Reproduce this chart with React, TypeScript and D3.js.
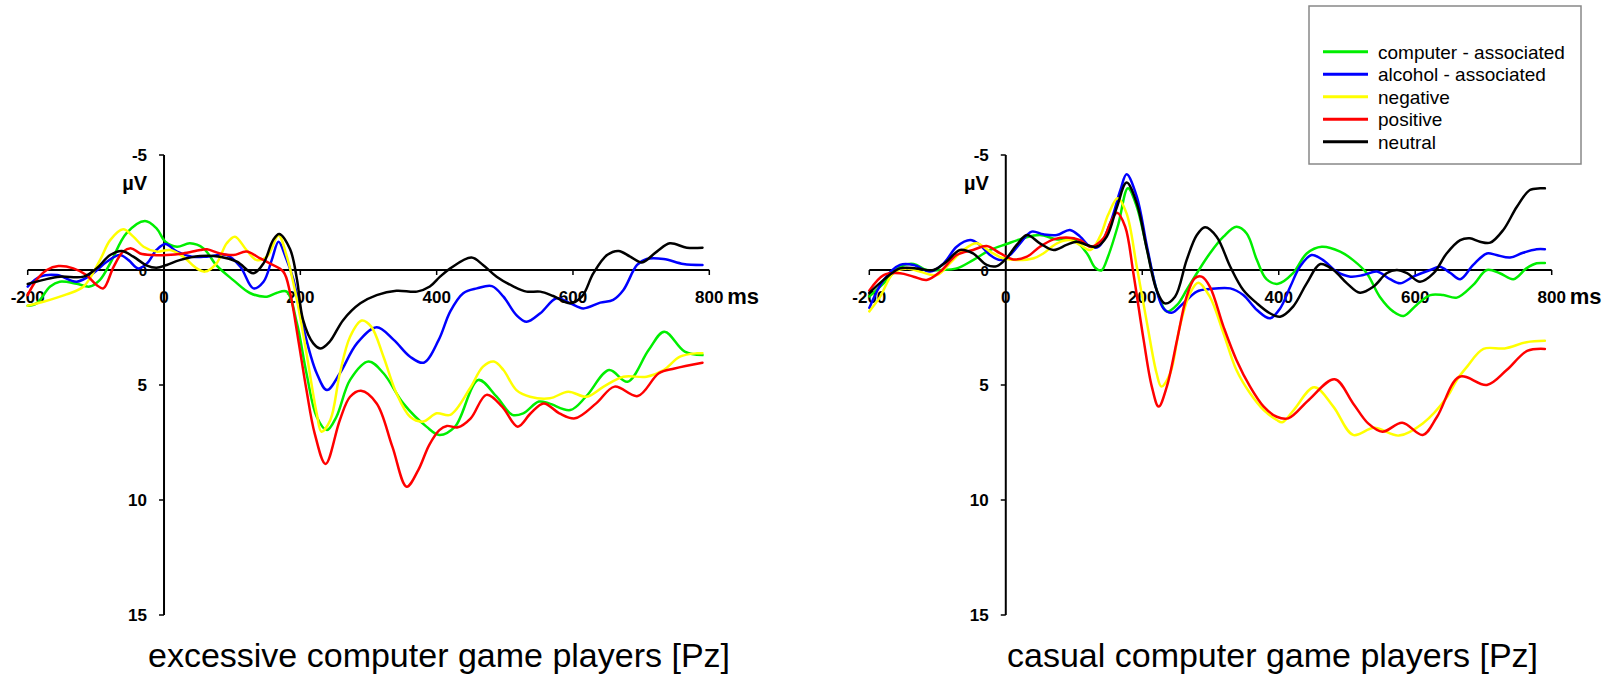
import { useMemo } from 'react';
import * as d3 from 'd3';

type Pt = [number, number];

// ms / µV readings, excessive players (left panel)
const EXC_COMPUTER: Pt[] = [
  [-200, 1.55], [-187, 1.45], [-167, 0.72], [-153, 0.51], [-128, 0.6], [-109, 0.72], [-94, 0.43], [-79, -0.29],
  [-55, -1.6], [-28, -2.13], [-11, -1.81], [2, -1.23], [19, -1.01], [38, -1.16], [58, -0.94], [77, -0.2],
  [102, 0.45], [126, 1.0], [151, 1.16], [165, 1.0], [180, 0.94], [195, 2.32], [209, 4.49], [224, 6.38],
  [239, 6.96], [253, 6.38], [273, 4.78], [300, 3.98], [322, 4.49], [351, 5.8], [385, 6.81], [404, 7.17],
  [427, 6.81], [461, 4.78], [488, 5.51], [511, 6.3], [527, 6.23], [550, 5.72], [565, 5.8], [596, 6.09],
  [619, 5.51], [653, 4.35], [680, 4.86], [711, 3.48], [734, 2.68], [764, 3.55], [790, 3.7],
];
const EXC_ALCOHOL: Pt[] = [
  [-200, 0.72], [-182, 0.29], [-157, 0.22], [-128, 0.51], [-104, 0.14], [-84, -0.36], [-65, -0.65], [-52, -0.43],
  [-38, -0.07], [-25, -0.29], [-11, -0.87], [2, -1.13], [19, -0.8], [41, -0.58], [63, -0.58], [92, -0.65],
  [112, -0.14], [131, 0.8], [146, 0.51], [158, -0.43], [168, -1.23], [178, -0.6], [190, 0.43], [204, 2.46],
  [224, 4.49], [239, 5.22], [258, 4.49], [283, 3.19], [312, 2.49], [337, 3.04], [361, 3.77], [381, 4.03],
  [403, 3.04], [420, 1.8], [439, 1.01], [459, 0.8], [481, 0.7], [498, 1.16], [517, 1.96], [532, 2.25],
  [552, 1.88], [576, 1.23], [596, 1.45], [615, 1.67], [640, 1.42], [659, 1.3], [674, 0.87], [694, -0.22],
  [708, -0.48], [733, -0.48], [762, -0.26], [790, -0.22],
];
const EXC_NEGATIVE: Pt[] = [
  [-200, 1.55], [-177, 1.38], [-143, 1.06], [-118, 0.72], [-94, -0.43], [-79, -1.3], [-60, -1.77], [-45, -1.45],
  [-30, -1.01], [-11, -0.8], [9, -0.87], [28, -0.58], [48, -0.07], [60, 0.07], [77, -0.29], [92, -1.16],
  [104, -1.45], [121, -0.87], [136, -0.43], [151, -0.58], [168, -1.5], [180, -0.6], [195, 1.3], [209, 3.62],
  [224, 6.23], [231, 7.03], [244, 6.52], [258, 4.49], [273, 2.9], [290, 2.2], [304, 2.46], [322, 3.77],
  [341, 5.36], [361, 6.38], [380, 6.59], [400, 6.23], [420, 6.3], [449, 5.14], [468, 4.2], [484, 3.98],
  [498, 4.35], [517, 5.22], [537, 5.51], [566, 5.58], [593, 5.29], [620, 5.51], [645, 5.07], [674, 4.64],
  [708, 4.64], [733, 4.35], [757, 3.77], [782, 3.62], [790, 3.62],
];
const EXC_POSITIVE: Pt[] = [
  [-200, 1.09], [-187, 0.43], [-172, 0], [-155, -0.17], [-133, -0.07], [-114, 0.22], [-99, 0.65], [-89, 0.8],
  [-74, -0.14], [-60, -0.8], [-48, -0.94], [-35, -0.72], [-16, -0.65], [4, -0.65], [28, -0.72], [53, -0.87],
  [63, -0.9], [82, -0.72], [102, -0.65], [121, -0.8], [141, -0.51], [155, -0.29], [175, 0.07], [185, 1.0],
  [197, 3.04], [209, 5.22], [221, 7.1], [237, 8.43], [258, 6.52], [273, 5.51], [289, 5.25], [312, 5.8],
  [335, 7.68], [356, 9.42], [373, 8.7], [389, 7.61], [404, 6.96], [415, 6.78], [431, 6.84], [450, 6.45],
  [473, 5.43], [496, 5.94], [519, 6.81], [538, 6.23], [557, 5.8], [580, 6.23], [603, 6.45], [634, 5.8],
  [661, 5.07], [695, 5.48], [726, 4.49], [749, 4.28], [790, 4.03],
];
const EXC_NEUTRAL: Pt[] = [
  [-200, 0.61], [-177, 0.43], [-153, 0.29], [-118, 0.29], [-99, -0.07], [-79, -0.65], [-62, -0.83], [-45, -0.58],
  [-25, -0.19], [-11, -0.1], [4, -0.22], [23, -0.43], [53, -0.61], [82, -0.58], [107, -0.36], [131, 0.14],
  [146, -0.29], [160, -1.3], [169, -1.57], [185, -0.9], [195, 0.4], [204, 2.17], [219, 3.19], [230, 3.41],
  [243, 3.12], [263, 2.17], [288, 1.45], [312, 1.09], [341, 0.9], [371, 0.94], [390, 0.72], [405, 0.29],
  [420, -0.07], [451, -0.54], [468, -0.22], [488, 0.29], [513, 0.72], [532, 0.94], [552, 0.94], [571, 1.13],
  [596, 1.45], [613, 1.16], [630, 0.14], [650, -0.65], [667, -0.83], [684, -0.58], [701, -0.33], [723, -0.8],
  [742, -1.16], [767, -0.97], [790, -0.97],
];

// casual players (right panel)
const CAS_COMPUTER: Pt[] = [
  [-200, 1.15], [-179, 0.58], [-155, -0.14], [-135, -0.26], [-116, 0], [-96, 0], [-72, -0.07], [-48, -0.43],
  [-23, -0.87], [1, -1.13], [26, -1.38], [50, -1.52], [75, -1.33], [99, -1.33], [119, -0.72], [131, -0.1],
  [140, 0.02], [150, -0.6], [165, -2.0], [179, -3.55], [192, -2.75], [204, -1.3], [216, 0.29], [226, 1.3],
  [236, 1.81], [251, 1.52], [265, 0.87], [280, 0.14], [299, -0.72], [319, -1.45], [338, -1.88], [353, -1.59],
  [368, -0.43], [382, 0.4], [399, 0.6], [421, 0.14], [441, -0.72], [463, -1.01], [490, -0.8], [509, -0.43],
  [529, 0.14], [548, 1.16], [568, 1.81], [583, 2.0], [602, 1.52], [622, 1.09], [641, 1.09], [661, 1.2],
  [685, 0.65], [705, 0], [724, 0.14], [744, 0.4], [763, -0.07], [778, -0.29], [790, -0.3],
];
const CAS_ALCOHOL: Pt[] = [
  [-200, 1.65], [-179, 0.43], [-155, -0.22], [-135, -0.22], [-111, 0.07], [-91, -0.29], [-72, -1.01], [-52, -1.3],
  [-38, -1.09], [-23, -0.65], [-8, -0.43], [6, -0.65], [21, -1.16], [38, -1.67], [55, -1.55], [75, -1.52],
  [94, -1.74], [109, -1.45], [124, -1.01], [136, -1.01], [153, -2.03], [168, -3.48], [177, -4.16], [192, -3.19],
  [207, -1.01], [221, 0.87], [231, 1.67], [243, 1.86], [260, 1.45], [280, 0.94], [299, 0.83], [329, 0.8],
  [348, 1.09], [368, 1.74], [387, 2.1], [402, 1.67], [417, 0.72], [431, -0.14], [448, -0.65], [465, -0.43],
  [485, 0.07], [505, 0.29], [524, 0.22], [544, 0.07], [563, 0.4], [578, 0.58], [597, 0.29], [622, 0],
  [636, -0.14], [651, 0.12], [666, 0.4], [685, -0.22], [705, -0.72], [719, -0.65], [739, -0.54], [758, -0.75],
  [778, -0.9], [790, -0.9],
];
const CAS_NEGATIVE: Pt[] = [
  [-200, 1.8], [-184, 1.16], [-165, 0.14], [-145, -0.07], [-126, 0.07], [-101, 0.22], [-82, -0.29], [-62, -0.87],
  [-43, -1.16], [-23, -0.8], [-4, -0.51], [16, -0.43], [41, -0.51], [55, -0.72], [75, -1.16], [94, -1.3],
  [109, -1.09], [124, -0.87], [138, -1.45], [150, -2.4], [164, -3.12], [177, -2.46], [192, -0.14], [207, 2.32],
  [221, 4.49], [228, 5.07], [241, 4.49], [255, 2.46], [270, 1.01], [282, 0.55], [299, 1.16], [319, 2.75],
  [338, 4.35], [358, 5.36], [378, 6.09], [397, 6.52], [405, 6.62], [422, 6.09], [452, 5.1], [480, 5.94],
  [509, 7.17], [540, 6.86], [576, 7.2], [611, 6.67], [647, 5.51], [661, 4.78], [676, 4.2], [700, 3.43],
  [731, 3.41], [763, 3.14], [790, 3.08],
];
const CAS_POSITIVE: Pt[] = [
  [-200, 0.9], [-179, 0.22], [-155, 0.14], [-135, 0.29], [-116, 0.43], [-96, 0.07], [-72, -0.65], [-48, -0.87],
  [-28, -1.04], [-8, -0.72], [11, -0.46], [31, -0.58], [50, -1.01], [70, -1.33], [89, -1.41], [109, -1.3],
  [124, -1.01], [143, -1.38], [153, -2.03], [163, -2.49], [175, -1.88], [187, 0.14], [202, 3.04], [214, 5.07],
  [224, 5.94], [236, 5.07], [251, 3.04], [265, 1.16], [277, 0.36], [287, 0.29], [299, 0.72], [319, 2.46],
  [338, 3.91], [358, 5.07], [378, 5.94], [397, 6.38], [414, 6.45], [444, 5.65], [482, 4.75], [509, 5.8],
  [531, 6.67], [552, 7.03], [581, 6.64], [611, 7.17], [632, 6.38], [665, 4.64], [705, 5.0], [734, 4.35],
  [764, 3.52], [790, 3.43],
];
const CAS_NEUTRAL: Pt[] = [
  [-200, 1.0], [-179, 0.43], [-155, -0.07], [-131, -0.07], [-106, 0], [-87, -0.36], [-67, -0.87], [-48, -0.72],
  [-28, -0.22], [-13, -0.17], [1, -0.51], [16, -1.09], [31, -1.52], [50, -1.16], [70, -0.87], [89, -1.09],
  [104, -1.23], [119, -1.09], [133, -1.01], [148, -1.45], [163, -2.75], [177, -3.8], [192, -2.9], [207, -0.87],
  [221, 0.87], [233, 1.45], [248, 1.16], [265, -0.43], [280, -1.52], [292, -1.86], [309, -1.45], [329, -0.14],
  [348, 0.87], [368, 1.45], [387, 1.88], [402, 2.03], [421, 1.59], [441, 0.58], [461, -0.26], [480, 0],
  [500, 0.58], [519, 0.99], [539, 0.72], [558, 0.14], [573, 0], [588, 0.14], [607, 0.51], [627, 0.14],
  [646, -0.72], [666, -1.3], [680, -1.38], [695, -1.23], [710, -1.19], [729, -1.74], [749, -2.75], [768, -3.48],
  [783, -3.55], [790, -3.55],
];

const SERIES_NAMES = ['computer - associated', 'alcohol - associated', 'negative', 'positive', 'neutral'];
const SERIES_COLORS = ['#00ee00', '#0000ff', '#ffff00', '#ff0000', '#000000'];
const X_TICKS = [-200, 0, 200, 400, 600, 800];
const Y_TICKS = [-5, 0, 5, 10, 15];

const FONT = '"Liberation Sans", Arial, sans-serif';

const y = d3.scaleLinear().domain([-5, 15]).range([155, 615]);

const Panel = ({ x, series, title, titleX }: {
  x: d3.ScaleLinear<number, number>; series: Pt[][]; title: string; titleX: number;
}) => {
  const line = d3.line<Pt>()
    .x(d => x(d[0]))
    .y(d => y(d[1]))
    .curve(d3.curveCatmullRom.alpha(0.5));
  const x0 = x(0);
  const y0 = y(0);

  return (
    <g>
      {/* y tick labels + unit */}
      {Y_TICKS.map(v => (
        <text key={'yl' + v} x={x0 - 17} y={y(v) + 6} textAnchor="end"
          fontFamily={FONT} fontWeight="bold" fontSize={v === 0 ? 15 : 17}>{v}</text>
      ))}
      <text x={x0 - 17} y={190} textAnchor="end" fontFamily={FONT} fontWeight="bold" fontSize={20}>µV</text>

      {/* x tick labels */}
      {X_TICKS.map(t => (
        <text key={'xl' + t} x={x(t)} y={303} textAnchor="middle"
          fontFamily={FONT} fontWeight="bold" fontSize={17}>{t}</text>
      ))}
      <text x={x(800) + 18} y={304} fontFamily={FONT} fontWeight="bold" fontSize={22}>ms</text>

      {/* axes */}
      <line x1={x(-200)} x2={x(800)} y1={y0} y2={y0} stroke="#000" strokeWidth={2} />
      <line x1={x0} x2={x0} y1={y(-5)} y2={y(15)} stroke="#000" strokeWidth={2} />
      {X_TICKS.filter(t => t !== 0).map(t => (
        <line key={'xt' + t} x1={x(t)} x2={x(t)} y1={y0} y2={y0 + 5} stroke="#000" strokeWidth={1.5} />
      ))}
      {Y_TICKS.filter(v => v !== 0).map(v => (
        <line key={'yt' + v} x1={x0 - 5} x2={x0} y1={y(v)} y2={y(v)} stroke="#000" strokeWidth={1.5} />
      ))}

      {/* waveforms */}
      {series.map((s, i) => (
        <path key={i} d={line(s) || ''} fill="none" stroke={SERIES_COLORS[i]} strokeWidth={2.5}
          strokeLinejoin="round" strokeLinecap="round" />
      ))}

      <text x={titleX} y={667} fontFamily={FONT} fontSize={34}>{title}</text>
    </g>
  );
};

export default function App() {
  const xLeft = useMemo(() => d3.scaleLinear().domain([-200, 800]).range([27.7, 709.3]), []);
  const xRight = useMemo(() => d3.scaleLinear().domain([-200, 800]).range([869.3, 1551.7]), []);

  return (
    <div style={{ position: 'absolute', left: 0, top: 0, width: 1614, height: 677, background: '#fff' }}>
      <svg width={1614} height={677}>
        <Panel x={xLeft} titleX={148}
          series={[EXC_COMPUTER, EXC_ALCOHOL, EXC_NEGATIVE, EXC_POSITIVE, EXC_NEUTRAL]}
          title="excessive computer game players [Pz]" />
        <Panel x={xRight} titleX={1007}
          series={[CAS_COMPUTER, CAS_ALCOHOL, CAS_NEGATIVE, CAS_POSITIVE, CAS_NEUTRAL]}
          title="casual computer game players [Pz]" />

        {/* legend */}
        <rect x={1309} y={6} width={272} height={158} fill="#fff" stroke="#888" strokeWidth={1.5} />
        {SERIES_NAMES.map((name, i) => {
          const ry = 51.7 + i * 22.5;
          return (
            <g key={name}>
              <line x1={1323} x2={1368} y1={ry} y2={ry} stroke={SERIES_COLORS[i]} strokeWidth={3} />
              <text x={1378} y={ry + 7} fontFamily={FONT} fontSize={19}>{name}</text>
            </g>
          );
        })}
      </svg>
    </div>
  );
}
